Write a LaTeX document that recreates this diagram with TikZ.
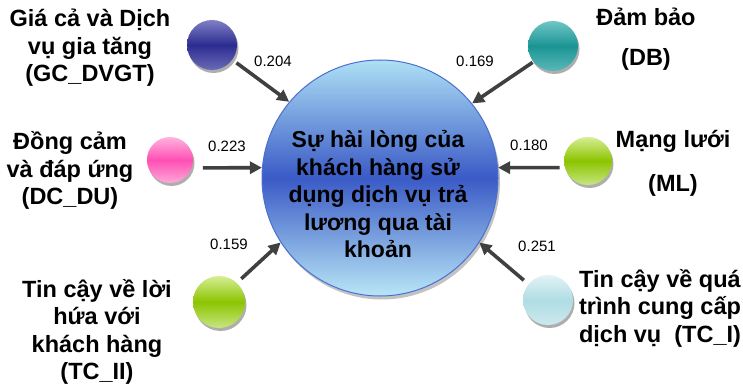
\documentclass[tikz,border=0pt]{standalone}
\usepackage{fontspec}
\setmainfont{Liberation Sans}
\usetikzlibrary{arrows.meta,shadows}

\definecolor{arrowgray}{HTML}{404040}
\definecolor{mainedge}{HTML}{4A6FD0}
\definecolor{maintop}{HTML}{AEE0F5}
\definecolor{mainmid}{HTML}{3A5AC6}
\definecolor{mainbot}{HTML}{B8E6F6}
\definecolor{gctop}{HTML}{8080C6}
\definecolor{gcmid}{HTML}{2C2C90}
\definecolor{gcbot}{HTML}{6A6AB8}
\definecolor{dbtop}{HTML}{70C6C6}
\definecolor{dbmid}{HTML}{1B9494}
\definecolor{dbbot}{HTML}{5AB8B8}
\definecolor{dctop}{HTML}{FFB4DE}
\definecolor{dcmid}{HTML}{FF4FB4}
\definecolor{dcbot}{HTML}{FFA8D8}
\definecolor{grtop}{HTML}{D6EE94}
\definecolor{grmid}{HTML}{8CC400}
\definecolor{grbot}{HTML}{C6E680}
\definecolor{cytop}{HTML}{E2F3F6}
\definecolor{cymid}{HTML}{B0DCE4}
\definecolor{cybot}{HTML}{CCE9EE}

% centred block of lines, aligned on the baseline of its first line
\newcommand{\blocklines}[1]{\begin{tabular}[t]{@{}c@{}}#1\end{tabular}}

\begin{document}
\begin{tikzpicture}[x=1pt,y=-1pt,
  ball/.style={circle, inner sep=0pt, minimum size=#1,
    drop shadow={shadow xshift=1.5pt, shadow yshift=-3pt, fill=black!45, opacity=0.7}},
  ball/.default=50pt,
  shade3/.style={top color=#1top, bottom color=#1bot, middle color=#1mid},
  arr/.style={draw=arrowgray, line width=3.6pt,
    -{Triangle[length=12pt,width=12pt]}},
  coef/.style={font=\fontsize{15}{17}\selectfont, inner sep=0pt},
  factor/.style={anchor=base, inner sep=0pt,
    font=\fontsize{23.5}{27.5}\selectfont\bfseries},
]
\useasboundingbox (0,0) rectangle (743,387);

% central outcome
\node[circle, inner sep=0pt, minimum size=236pt, draw=mainedge, line width=1pt,
  shade3=main,
  drop shadow={shadow xshift=2pt, shadow yshift=-3.5pt, fill=black!40, opacity=0.6}]
  (main) at (380,178) {};
\node[factor, font=\fontsize{23}{27.5}\selectfont\bfseries] (maintext) at (378,148)
  {\blocklines{Sự hài lòng của\\khách hàng sử\\dụng dịch vụ trả\\lương qua tài\\khoản}};

% factor balls
\node[ball, shade3=gc] (gc) at (212,45) {};
\node[ball, shade3=db] (db) at (553,46) {};
\node[ball=46pt, shade3=dc] (dc) at (170,160) {};
\node[ball=48pt, shade3=gr] (ml) at (588,161) {};
\node[ball=52pt, shade3=gr] (tcii) at (219,302) {};
\node[ball, shade3=cy] (tci) at (548,300) {};

% factor names
\node[factor] (gct) at (90,27) {\blocklines{Giá cả và Dịch\\vụ gia tăng\\(GC\_DVGT)}};
\node[factor] (dbt) at (646,26) {\blocklines{Đảm bảo\\[12.5pt](DB)}};
\node[factor] (dct) at (70,150) {\blocklines{Đồng cảm\\và đáp ứng\\(DC\_DU)}};
\node[factor] (mlt) at (673,148) {\blocklines{Mạng lưới\\[16.5pt](ML)}};
\node[factor] (tciit) at (97,297) {\blocklines{Tin cậy về lời\\hứa với\\khách hàng\\(TC\_II)}};
\node[factor] (tcit) at (660,287) {\blocklines{Tin cậy về quá\\trình cung cấp\\dịch vụ\ \ (TC\_I)}};

% paths with coefficients
\draw[arr, shorten <=5pt] (gc.-36) -- (main.140);
\draw[arr, shorten <=1pt] (db.219) -- (main.39);
\draw[arr, shorten <=11pt] (dc.-20) -- (main.175);
\draw[arr, shorten <=5pt] (ml.196) -- (main.5);
\draw[arr, shorten <=6pt] (tcii.47) -- (main.213);
\draw[arr, shorten <=6pt] (tci.141) -- (main.-33);

\node[coef] (c1) at (273,61) {0.204};
\node[coef] (c2) at (475,61) {0.169};
\node[coef] (c3) at (227,146) {0.223};
\node[coef] (c4) at (529,145) {0.180};
\node[coef] (c5) at (229,244) {0.159};
\node[coef] (c6) at (537,246) {0.251};
\end{tikzpicture}
\end{document}
